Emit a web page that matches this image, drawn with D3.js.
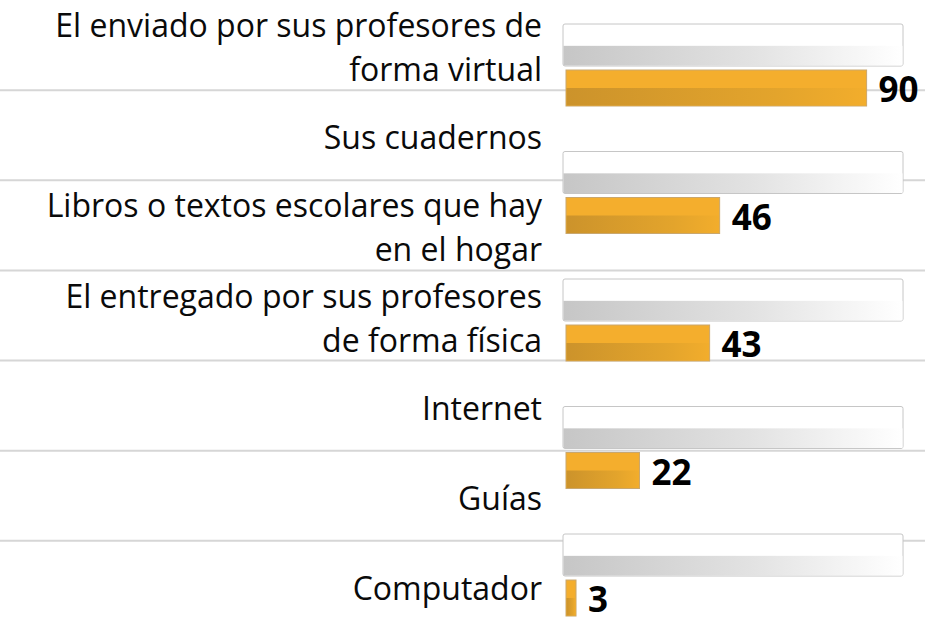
<!DOCTYPE html>
<html>
<head>
<meta charset="utf-8">
<script src="https://cdn.jsdelivr.net/npm/d3@7"></script>
<style>
  body { margin: 0; background: #fff; }
  text { font-family: "Open Sans", "Noto Sans", sans-serif; }
</style>
</head>
<body>
<script>
// category labels (one row each, left side)
let categories = [
  ["El enviado por sus profesores de", "forma virtual"],
  ["Sus cuadernos"],
  ["Libros o textos escolares que hay", "en el hogar"],
  ["El entregado por sus profesores", "de forma física"],
  ["Internet"],
  ["Guías"],
  ["Computador"]
];

// bar values (percent) as they appear top to bottom
let barValues = [90, 46, 43, 22, 3];
let barLabels = ["90", "46", "43", "22", "3"];
let maxValue = 100;

let width = 927, height = 623;
let svg, rowY, barY, x;

appendSvg("body");
setupScales();
appendDefs();
appendRowLines();
appendCategoryLabels();
appendBars();

function appendSvg(domElement) {
  svg = d3.select(domElement).append("svg")
    .attr("width", width)
    .attr("height", height);
}

function setupScales() {
  // rows for the labels and separator lines
  rowY = d3.scaleBand()
    .domain(d3.range(categories.length))
    .range([0, 631]);

  // slots for the bar pairs (background + value)
  barY = d3.scaleBand()
    .domain(d3.range(barValues.length))
    .range([24, 616])
    .paddingInner(0.357)
    .paddingOuter(0);

  x = d3.scaleLinear()
    .domain([0, maxValue])
    .range([566, 900]);
}

function appendDefs() {
  let defs = svg.append("defs");

  let g1 = defs.append("linearGradient").attr("id", "greyShade");
  g1.append("stop").attr("offset", "0%").attr("stop-color", "#c6c6c6");
  g1.append("stop").attr("offset", "55%").attr("stop-color", "#e2e2e2");
  g1.append("stop").attr("offset", "100%").attr("stop-color", "#ffffff");

  let g2 = defs.append("linearGradient").attr("id", "orangeShade");
  g2.append("stop").attr("offset", "0%").attr("stop-color", "#cc932b");
  g2.append("stop").attr("offset", "70%").attr("stop-color", "#e3a42c");
  g2.append("stop").attr("offset", "100%").attr("stop-color", "#f2ad2c");
}

function appendRowLines() {
  let bounds = d3.range(1, categories.length).map(i => rowY(i));
  svg.append("g")
    .selectAll("line")
    .data(bounds)
    .join("line")
    .attr("x1", 0)
    .attr("x2", 925)
    .attr("y1", d => d)
    .attr("y2", d => d)
    .attr("stroke", "#d6d6d6")
    .attr("stroke-width", 2);
}

function appendCategoryLabels() {
  let lineH = 44;
  let g = svg.append("g");
  categories.forEach(function(lines, i) {
    let mid = rowY(i) + rowY.bandwidth() / 2 + 14;
    let first = mid - (lines.length - 1) * lineH / 2;
    g.append("text")
      .attr("text-anchor", "end")
      .attr("font-size", 32)
      .attr("fill", "#0a0a0a")
      .selectAll("tspan")
      .data(lines)
      .join("tspan")
      .attr("x", 542)
      .attr("y", (d, j) => first + j * lineH)
      .text(d => d);
  });
}

function appendBars() {
  let bh = 42, oh = 36, gap = 4;
  let groups = svg.append("g")
    .selectAll("g")
    .data(barValues)
    .join("g")
    .attr("transform", (d, i) => `translate(0, ${barY(i)})`);

  // background bar (full scale)
  groups.append("rect")
    .attr("x", x(0) - 3)
    .attr("y", 0)
    .attr("width", x(maxValue) - x(0) + 6)
    .attr("height", bh)
    .attr("rx", 2)
    .attr("fill", "#fff")
    .attr("stroke", "#c6c6c6")
    .attr("stroke-width", 1);
  groups.append("rect")
    .attr("x", x(0) - 2.5)
    .attr("y", bh * 0.52)
    .attr("width", x(maxValue) - x(0) + 5)
    .attr("height", bh * 0.48 - 0.5)
    .attr("fill", "url(#greyShade)");

  // value bar
  groups.append("rect")
    .attr("x", x(0))
    .attr("y", bh + gap)
    .attr("width", d => x(d) - x(0))
    .attr("height", oh)
    .attr("fill", "#f4ae2d")
    .attr("stroke", "#c9a76e")
    .attr("stroke-width", 1);
  groups.append("rect")
    .attr("x", x(0) + 0.5)
    .attr("y", bh + gap + oh * 0.5)
    .attr("width", d => Math.max(0, x(d) - x(0) - 1))
    .attr("height", oh * 0.5 - 0.5)
    .attr("fill", "url(#orangeShade)");

  groups.append("text")
    .attr("x", d => x(d) + 12)
    .attr("y", bh + gap + oh - 4)
    .attr("font-size", 35)
    .attr("font-weight", "bold")
    .attr("fill", "#000")
    .text((d, i) => barLabels[i]);
}
</script>
</body>
</html>
